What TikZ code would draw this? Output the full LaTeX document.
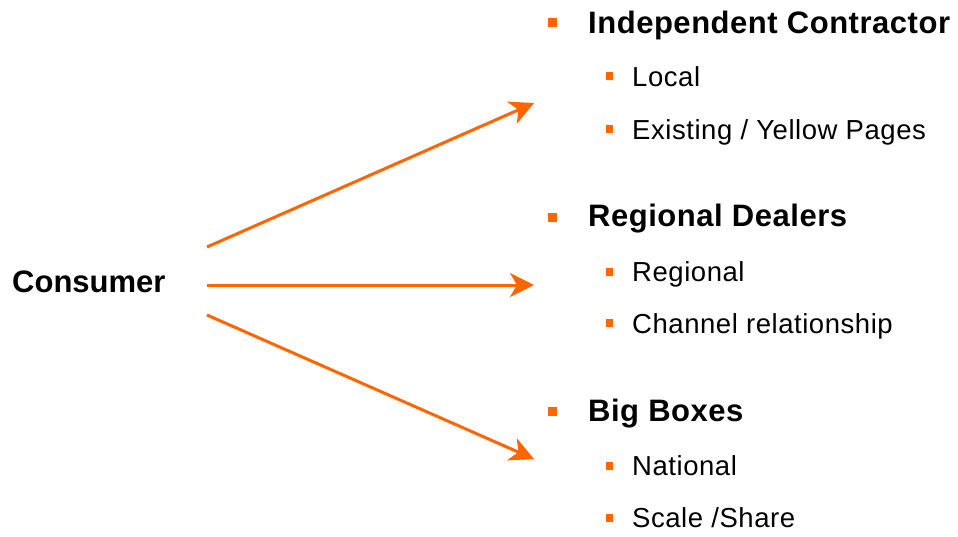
\documentclass[tikz,border=0pt]{standalone}
\usepackage{fontspec}
\setmainfont{Liberation Sans}
\usetikzlibrary{arrows.meta}
\definecolor{accent}{RGB}{255,102,0}
\begin{document}
\begin{tikzpicture}[x=1pt,y=-1pt,
  flow/.style={draw=accent,line width=3pt,-{Stealth[length=24pt,width=24pt,inset=7pt]}},
  headtext/.style={anchor=base west,inner sep=0pt,font=\fontsize{31}{36}\selectfont\bfseries\addfontfeature{LetterSpace=1.7}},
  sourcetext/.style={anchor=base west,inner sep=0pt,font=\fontsize{31}{36}\selectfont\bfseries},
  subtext/.style={anchor=base west,inner sep=0pt,font=\fontsize{27.5}{32}\selectfont\addfontfeature{LetterSpace=2}},
  bigdot/.style={fill=accent,inner sep=0pt,minimum width=9pt,minimum height=9pt},
  smalldot/.style={fill=accent,inner sep=0pt,minimum width=7pt,minimum height=8pt}]
\useasboundingbox (0,0) rectangle (958,536);
\fill[white] (0,0) rectangle (958,536);

% source
\node[sourcetext] (consumer) at (12,292) {Consumer};

% arrow end points
\coordinate (s1) at (207,247);
\coordinate (s2) at (207,285);
\coordinate (s3) at (207,315);
\coordinate (t1) at (534,103);
\coordinate (t2) at (534,285);
\coordinate (t3) at (534,459);
\draw[flow] (s1) -- (t1);
\draw[flow] (s2) -- (t2);
\draw[flow] (s3) -- (t3);

% first group
\node[bigdot] (b1) at (552.5,22.5) {};
\node[headtext] (h1) at (588,33) {Independent Contractor};
\node[smalldot] (b11) at (609.5,76) {};
\node[subtext] (i11) at (632,86) {Local};
\node[smalldot] (b12) at (609.5,129) {};
\node[subtext] (i12) at (632,139) {Existing / Yellow Pages};

% second group
\node[bigdot] (b2) at (552.5,217.5) {};
\node[headtext] (h2) at (588,226) {Regional Dealers};
\node[smalldot] (b21) at (609.5,271.5) {};
\node[subtext] (i21) at (632,281) {Regional};
\node[smalldot] (b22) at (609.5,323) {};
\node[subtext] (i22) at (632,333) {Channel relationship};

% third group
\node[bigdot] (b3) at (552.5,411) {};
\node[headtext] (h3) at (588,421) {Big Boxes};
\node[smalldot] (b31) at (609.5,465.5) {};
\node[subtext] (i31) at (632,475) {National};
\node[smalldot] (b32) at (609.5,517.5) {};
\node[subtext] (i32) at (632,527) {Scale /Share};
\end{tikzpicture}
\end{document}
